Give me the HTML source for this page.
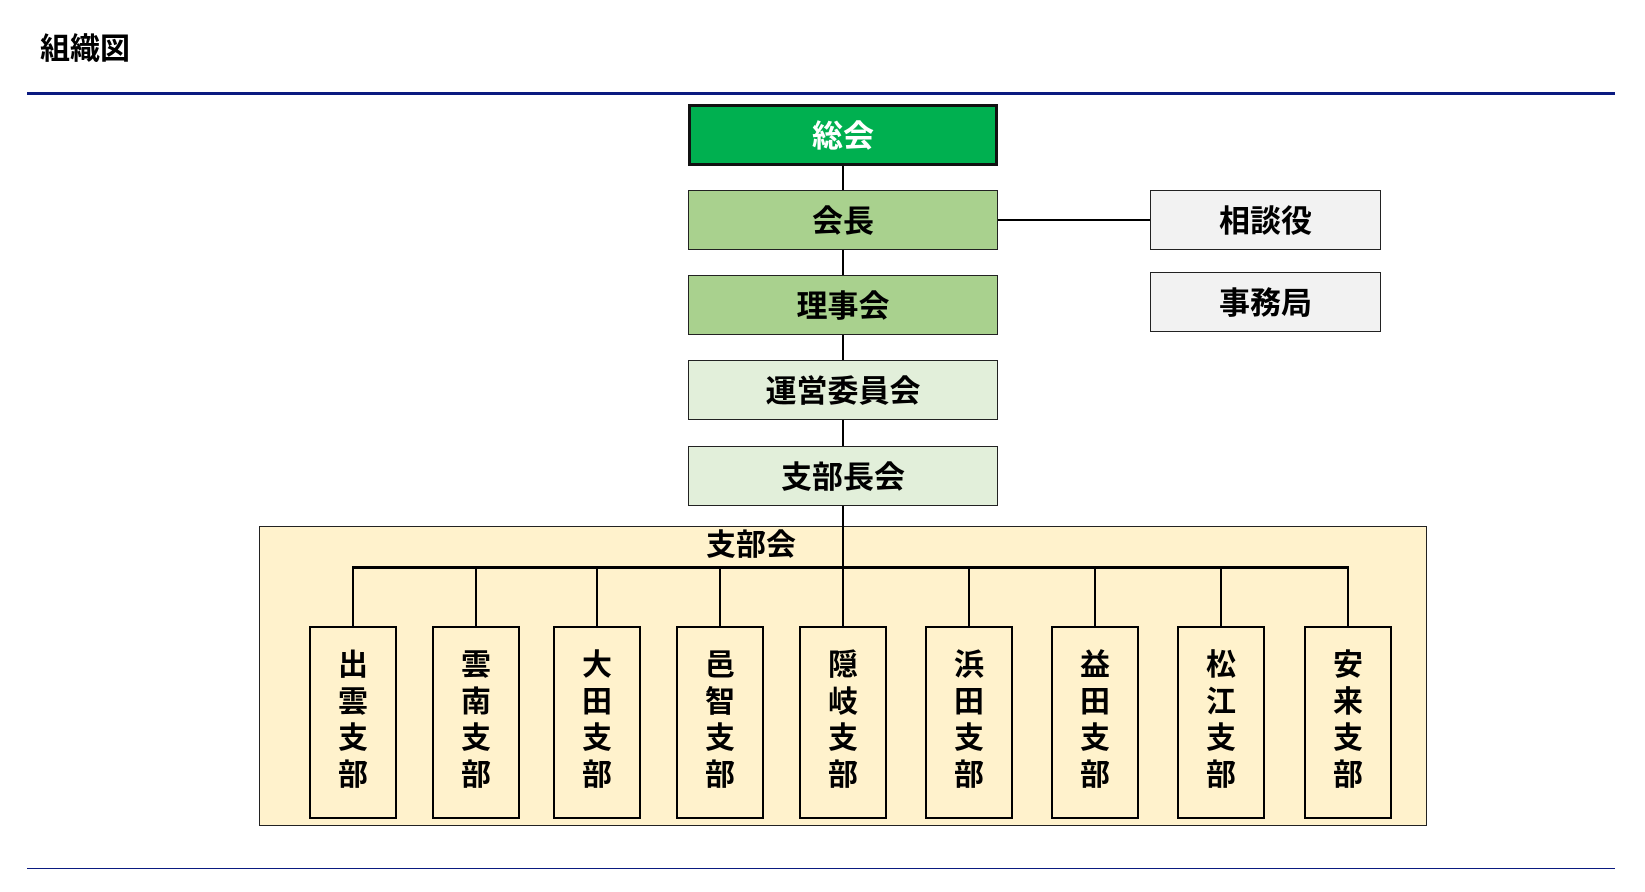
<!DOCTYPE html>
<html><head><meta charset="utf-8"><style>
body{margin:0;width:1645px;height:892px;background:#fff;position:relative;font-family:"Liberation Sans","Noto Sans CJK JP",sans-serif;font-weight:bold;overflow:hidden}
.a{position:absolute;box-sizing:border-box}
.b{display:flex;align-items:center;justify-content:center;font-size:31px;border:1.5px solid #222;padding-bottom:4px}
.l{position:absolute;background:#000}
.v{position:absolute;top:626px;width:88px;height:193px;border:2.5px solid #000;box-sizing:border-box;font-size:30px;text-align:center;line-height:36.5px;padding-top:20px}
</style></head><body>
<div class="a" style="left:40px;top:24px;font-size:30px">組織図</div>
<div class="l" style="left:27px;top:92px;width:1588px;height:3px;background:#0a1a80"></div>
<div class="l" style="left:27px;top:868px;width:1588px;height:1px;background:#0a1a80"></div>
<div class="l" style="left:842px;top:165px;width:2px;height:361px"></div>
<div class="l" style="left:998px;top:219px;width:152px;height:2px"></div>
<div class="a b" style="left:688px;top:104px;width:310px;height:62px;background:#00b050;color:#fff;border:3.5px solid #111">総会</div>
<div class="a b" style="left:688px;top:190px;width:310px;height:60px;background:#a9d18e">会長</div>
<div class="a b" style="left:688px;top:275px;width:310px;height:60px;background:#a9d18e">理事会</div>
<div class="a b" style="left:688px;top:360px;width:310px;height:60px;background:#e2efda">運営委員会</div>
<div class="a b" style="left:688px;top:446px;width:310px;height:60px;background:#e2efda">支部長会</div>
<div class="a b" style="left:1150px;top:190px;width:231px;height:60px;background:#f2f2f2">相談役</div>
<div class="a b" style="left:1150px;top:272px;width:231px;height:60px;background:#f2f2f2">事務局</div>
<div class="a" style="left:259px;top:526px;width:1168px;height:300px;background:#fff2cc;border:1.5px solid #222"></div>
<div class="a" style="left:691px;top:520px;width:120px;text-align:center;font-size:30px">支部会</div>
<div class="l" style="left:842px;top:526px;width:2px;height:100px"></div>
<div class="l" style="left:352px;top:566px;width:997px;height:3px"></div>
<div class="l" style="left:352px;top:566px;width:2px;height:60px"></div>
<div class="l" style="left:475px;top:566px;width:2px;height:60px"></div>
<div class="l" style="left:596px;top:566px;width:2px;height:60px"></div>
<div class="l" style="left:719px;top:566px;width:2px;height:60px"></div>
<div class="l" style="left:968px;top:566px;width:2px;height:60px"></div>
<div class="l" style="left:1094px;top:566px;width:2px;height:60px"></div>
<div class="l" style="left:1220px;top:566px;width:2px;height:60px"></div>
<div class="l" style="left:1347px;top:566px;width:2px;height:60px"></div>
<div class="v" style="left:309px">出<br>雲<br>支<br>部</div>
<div class="v" style="left:432px">雲<br>南<br>支<br>部</div>
<div class="v" style="left:553px">大<br>田<br>支<br>部</div>
<div class="v" style="left:676px">邑<br>智<br>支<br>部</div>
<div class="v" style="left:799px">隠<br>岐<br>支<br>部</div>
<div class="v" style="left:925px">浜<br>田<br>支<br>部</div>
<div class="v" style="left:1051px">益<br>田<br>支<br>部</div>
<div class="v" style="left:1177px">松<br>江<br>支<br>部</div>
<div class="v" style="left:1304px">安<br>来<br>支<br>部</div>
</body></html>
